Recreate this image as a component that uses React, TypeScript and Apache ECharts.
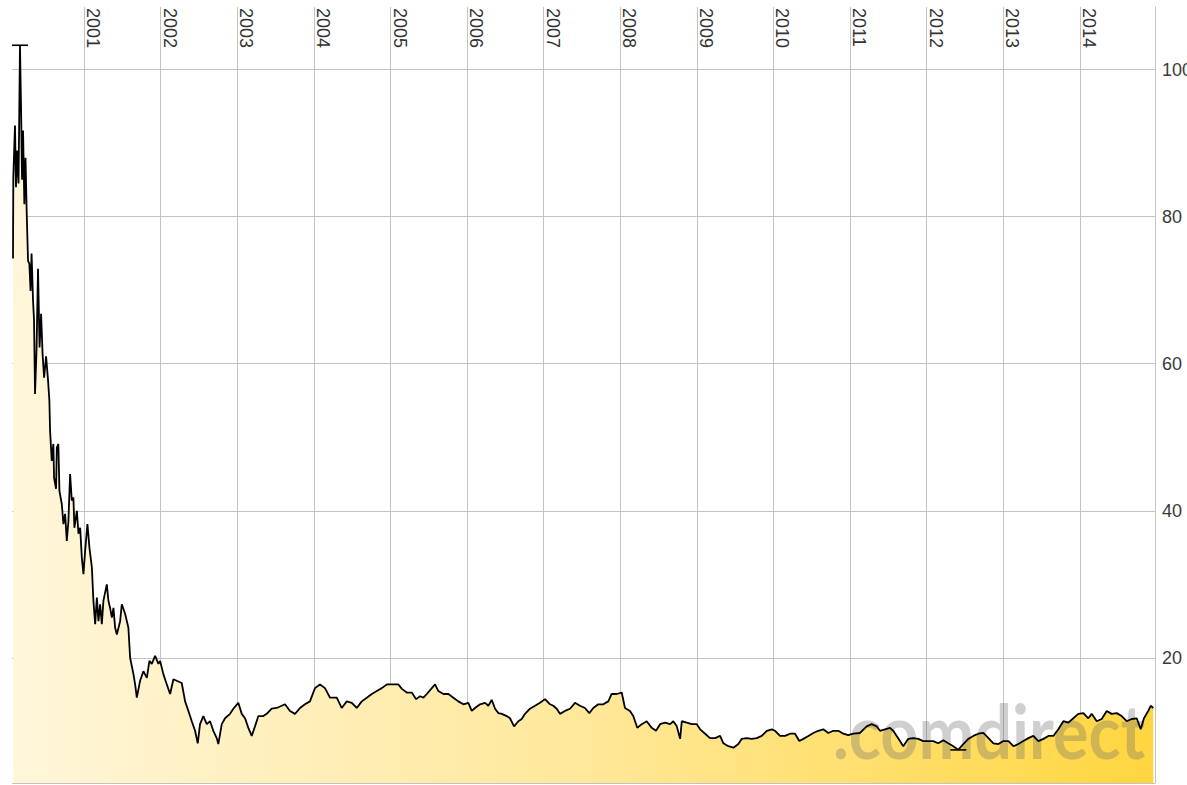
import React, { useEffect, useRef } from 'react';
import * as echarts from 'echarts';

// [decimal year, price]
const prices2000: [number, number][] = [
  [2000.073, 74.3], [2000.077, 85.3], [2000.099, 92.4], [2000.112, 84.0], [2000.125, 89.0],
  [2000.145, 84.5], [2000.164, 103.3], [2000.178, 94.8], [2000.191, 85.0], [2000.204, 91.7],
  [2000.221, 81.7], [2000.236, 88.0], [2000.252, 80.4], [2000.269, 74.0], [2000.286, 73.6],
  [2000.302, 69.9], [2000.315, 75.0], [2000.334, 68.6], [2000.347, 65.9], [2000.360, 55.9],
  [2000.380, 62.0], [2000.399, 72.9], [2000.419, 62.2], [2000.439, 66.8], [2000.458, 61.4],
  [2000.478, 58.1], [2000.504, 61.0], [2000.530, 57.7], [2000.547, 55.0], [2000.556, 50.9],
  [2000.578, 46.8], [2000.599, 49.1], [2000.608, 44.5], [2000.634, 43.0], [2000.644, 48.6],
  [2000.664, 49.1], [2000.678, 42.7], [2000.709, 40.9], [2000.730, 38.2], [2000.752, 39.6],
  [2000.774, 35.9], [2000.795, 38.6], [2000.817, 45.0], [2000.839, 41.4], [2000.860, 41.8],
  [2000.873, 37.7], [2000.905, 40.0], [2000.926, 36.9], [2000.948, 37.7], [2000.970, 33.6],
  [2000.991, 31.4],
];

const prices2001: [number, number][] = [
  [2001.013, 34.6], [2001.043, 38.2], [2001.069, 35.0], [2001.101, 32.3], [2001.121, 27.8],
  [2001.144, 24.6], [2001.166, 28.2], [2001.187, 25.0], [2001.209, 27.3], [2001.231, 24.6],
  [2001.252, 27.8], [2001.296, 30.0], [2001.317, 27.8], [2001.339, 26.8], [2001.362, 25.5],
  [2001.383, 26.8], [2001.405, 24.1], [2001.427, 23.2], [2001.470, 25.0], [2001.492, 27.3],
  [2001.535, 26.0], [2001.578, 24.1], [2001.601, 20.0], [2001.644, 17.8], [2001.666, 16.4],
  [2001.688, 14.6], [2001.731, 16.9], [2001.774, 18.2], [2001.819, 17.3], [2001.853, 19.6],
  [2001.884, 19.2], [2001.927, 20.3], [2001.970, 19.2], [2001.992, 19.6],
];

const prices2002to2004: [number, number][] = [
  [2002.035, 17.8], [2002.080, 16.4], [2002.123, 15.1], [2002.166, 17.1], [2002.210, 16.9],
  [2002.275, 16.6], [2002.319, 14.1], [2002.362, 12.8], [2002.406, 11.4], [2002.449, 10.1],
  [2002.484, 8.4], [2002.514, 11.0], [2002.557, 12.1], [2002.602, 11.0], [2002.645, 11.4],
  [2002.688, 10.1], [2002.732, 9.1], [2002.753, 8.3], [2002.798, 11.0], [2002.841, 11.8],
  [2002.906, 12.4], [2002.949, 13.1], [2003.014, 13.9], [2003.059, 12.4], [2003.102, 11.8],
  [2003.145, 10.5], [2003.189, 9.4], [2003.232, 10.7], [2003.276, 12.1], [2003.341, 12.1],
  [2003.385, 12.4], [2003.450, 13.1], [2003.516, 13.2], [2003.581, 13.5], [2003.624, 13.7],
  [2003.689, 12.8], [2003.755, 12.4], [2003.820, 13.2], [2003.885, 13.7], [2003.950, 14.1],
  [2004.016, 15.9], [2004.081, 16.4], [2004.146, 15.9], [2004.211, 14.6], [2004.299, 14.6],
  [2004.364, 13.2], [2004.430, 14.1], [2004.495, 13.9], [2004.560, 13.2], [2004.625, 14.1],
  [2004.691, 14.6], [2004.756, 15.1], [2004.821, 15.5], [2004.886, 15.9], [2004.952, 16.4],
];

const prices2005to2008: [number, number][] = [
  [2005.017, 16.4], [2005.038, 16.4], [2005.103, 16.4], [2005.148, 15.8], [2005.213, 15.3],
  [2005.278, 15.3], [2005.334, 14.4], [2005.386, 14.8], [2005.430, 14.6], [2005.474, 15.1],
  [2005.539, 15.9], [2005.582, 16.4], [2005.625, 15.5], [2005.691, 15.1], [2005.756, 15.1],
  [2005.821, 14.6], [2005.886, 14.1], [2005.952, 13.7], [2006.017, 13.9], [2006.061, 12.8],
  [2006.104, 13.2], [2006.170, 13.7], [2006.235, 13.9], [2006.278, 13.5], [2006.322, 14.3],
  [2006.366, 13.1], [2006.409, 12.5], [2006.453, 12.4], [2006.518, 12.1], [2006.561, 11.8],
  [2006.614, 10.7], [2006.670, 11.4], [2006.714, 11.7], [2006.757, 12.4], [2006.822, 13.1],
  [2006.888, 13.5], [2006.953, 13.9], [2007.018, 14.4], [2007.084, 13.7], [2007.127, 13.5],
  [2007.171, 13.1], [2007.214, 12.4], [2007.279, 12.8], [2007.345, 13.1], [2007.410, 13.9],
  [2007.475, 13.5], [2007.540, 13.2], [2007.597, 12.5], [2007.649, 13.2], [2007.714, 13.7],
  [2007.779, 13.7], [2007.845, 14.1], [2007.889, 15.1], [2007.954, 15.1], [2008.020, 15.3],
  [2008.063, 13.2], [2008.128, 12.8], [2008.171, 12.1], [2008.223, 10.5], [2008.281, 11.0],
  [2008.346, 11.4], [2008.411, 10.5], [2008.467, 10.1], [2008.520, 11.0], [2008.585, 11.2],
  [2008.650, 11.0], [2008.693, 11.4], [2008.738, 10.7], [2008.781, 9.0], [2008.803, 11.4],
  [2008.868, 11.2], [2008.933, 11.0], [2008.999, 11.0],
];

const prices2009to2011: [number, number][] = [
  [2009.042, 10.3], [2009.107, 9.7], [2009.172, 9.1], [2009.238, 9.1], [2009.303, 9.4],
  [2009.346, 8.4], [2009.411, 8.0], [2009.477, 7.8], [2009.542, 8.3], [2009.586, 9.0],
  [2009.651, 9.1], [2009.717, 9.0], [2009.782, 9.1], [2009.847, 9.4], [2009.913, 10.1],
  [2009.978, 10.3], [2010.021, 10.1], [2010.086, 9.4], [2010.151, 9.4], [2010.217, 9.7],
  [2010.282, 9.7], [2010.338, 8.7], [2010.390, 9.0], [2010.456, 9.4], [2010.521, 9.8],
  [2010.586, 10.1], [2010.651, 10.3], [2010.717, 9.8], [2010.782, 10.1], [2010.847, 10.1],
  [2010.913, 9.7], [2010.978, 9.5], [2011.043, 9.7], [2011.131, 9.8], [2011.218, 10.7],
  [2011.283, 11.0], [2011.349, 10.7], [2011.392, 10.1], [2011.457, 10.3], [2011.522, 10.5],
  [2011.565, 10.1], [2011.610, 9.4], [2011.653, 8.7], [2011.696, 8.0], [2011.761, 9.0],
  [2011.826, 9.1], [2011.892, 9.0], [2011.957, 8.7],
];

const prices2012to2014: [number, number][] = [
  [2012.022, 8.7], [2012.087, 8.7], [2012.153, 8.4], [2012.218, 8.8], [2012.283, 8.4],
  [2012.349, 8.0], [2012.414, 7.5], [2012.479, 8.3], [2012.544, 9.0], [2012.610, 9.4],
  [2012.675, 9.7], [2012.740, 9.8], [2012.806, 9.1], [2012.871, 8.4], [2012.936, 8.3],
  [2013.001, 8.7], [2013.067, 8.7], [2013.132, 8.0], [2013.197, 8.3], [2013.262, 8.7],
  [2013.328, 9.1], [2013.393, 9.4], [2013.458, 8.7], [2013.524, 9.0], [2013.589, 9.4],
  [2013.654, 9.4], [2013.719, 10.3], [2013.785, 11.4], [2013.850, 11.2], [2013.915, 11.8],
  [2013.980, 12.4], [2014.046, 12.5], [2014.111, 11.8], [2014.155, 12.4], [2014.221, 11.4],
  [2014.286, 11.7], [2014.351, 12.8], [2014.416, 12.4], [2014.482, 12.5], [2014.547, 12.1],
  [2014.612, 11.4], [2014.678, 11.7], [2014.743, 11.8], [2014.795, 10.3], [2014.838, 11.8],
  [2014.894, 12.8], [2014.926, 13.5], [2014.960, 13.2],
];

const axisRangeYears = [2000.06, 2014.982];
const priceRange = [3, 108.5];
const watermarkText = '.comdirect';

const ONE_DAY = 86400000;

function yearToTime(y: number): number {
  const y0 = Math.floor(y);
  const a = new Date(y0, 0, 1).getTime();
  const b = new Date(y0 + 1, 0, 1).getTime();
  return a + (y - y0) * (b - a);
}

export default function App() {
  const ref = useRef<HTMLDivElement>(null);
  useEffect(() => {
    if (!ref.current) return;
    const chart = echarts.init(ref.current, null, { renderer: 'svg' });
    const all = [
      ...prices2000,
      ...prices2001,
      ...prices2002to2004,
      ...prices2005to2008,
      ...prices2009to2011,
      ...prices2012to2014,
    ];
    const data = all.map(([y, v]) => [yearToTime(y), v]);
    const gridColor = '#c3c3c3';
    const font = '"Liberation Sans", Arial, sans-serif';
    chart.setOption({
      animation: false,
      backgroundColor: '#ffffff',
      grid: { left: 12, top: 7, width: 1143, height: 776, outerBoundsMode: 'none', containLabel: false },
      xAxis: {
        type: 'time',
        position: 'top',
        min: yearToTime(axisRangeYears[0]),
        max: yearToTime(axisRangeYears[1]),
        splitNumber: 15,
        minInterval: ONE_DAY * 365,
        maxInterval: ONE_DAY * 366,
        axisLine: { show: false },
        axisTick: { show: false },
        splitLine: { show: true, showMinLine: false, lineStyle: { color: gridColor, width: 1 } },
        axisLabel: {
          inside: true,
          rotate: 90,
          margin: 1,
          align: 'left',
          verticalAlign: 'bottom',
          fontSize: 18,
          color: '#333333',
          fontFamily: font,
          showMinLabel: false,
          showMaxLabel: false,
          formatter: (val: number) => {
            const d = new Date(val);
            return d.getMonth() === 0 && d.getDate() === 1 && d.getHours() === 0
              ? String(d.getFullYear())
              : '';
          },
        },
      },
      yAxis: {
        type: 'value',
        position: 'right',
        min: priceRange[0],
        max: priceRange[1],
        splitNumber: 5,
        axisLine: { show: true, lineStyle: { color: gridColor, width: 1 } },
        axisTick: { show: false },
        splitLine: { show: true, showMaxLine: false, lineStyle: { color: gridColor, width: 1 } },
        axisLabel: {
          margin: 7,
          fontSize: 18,
          color: '#3a3a3a',
          fontFamily: font,
          showMinLabel: false,
          showMaxLabel: false,
        },
      },
      graphic: [
        {
          type: 'text',
          z: 2,
          x: 833,
          y: 731,
          scaleX: 0.9,
          silent: true,
          style: {
            text: watermarkText,
            font: 'bold 74px Lato, "Open Sans", sans-serif',
            fill: 'rgba(105,105,105,0.32)',
            align: 'left',
            verticalAlign: 'middle',
          },
        },
      ],
      series: [
        {
          type: 'line',
          data,
          symbol: 'none',
          silent: true,
          z: 1,
          lineStyle: { width: 0 },
          areaStyle: {
            origin: 'start',
            opacity: 1,
            color: new echarts.graphic.LinearGradient(0, 0, 1, 0, [
              { offset: 0, color: '#fff6da' },
              { offset: 0.5, color: '#ffe89a' },
              { offset: 1, color: '#ffd640' },
            ]),
          },
        },
        {
          type: 'line',
          data,
          symbol: 'none',
          z: 3,
          lineStyle: { color: '#000000', width: 1.8 },
          markPoint: {
            symbol: 'rect',
            symbolSize: [16, 1.6],
            itemStyle: { color: '#000000' },
            label: { show: false },
            data: [{ type: 'max' }, { type: 'min' }],
          },
        },
      ],
    });
    return () => chart.dispose();
  }, []);
  return (
    <div
      style={{
        position: 'fixed',
        left: 0,
        top: 0,
        width: 1187,
        height: 785,
        overflow: 'hidden',
        background: '#ffffff',
      }}
    >
      <div ref={ref} style={{ width: 1240, height: 785 }} />
    </div>
  );
}
